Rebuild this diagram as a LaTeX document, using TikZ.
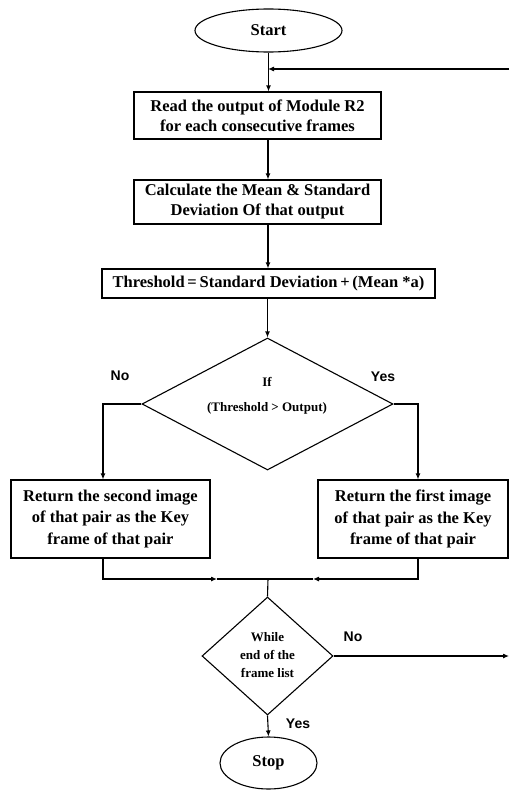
\documentclass[tikz,border=0pt]{standalone}
\usepackage{fontspec}
\setmainfont{Liberation Serif}
\setsansfont{Liberation Sans}
\usetikzlibrary{shapes.geometric,arrows.meta}
\begin{document}
\begin{tikzpicture}[x=1pt,y=-1pt,
  line width=1.1pt,
  arr/.style={-{Latex[length=6pt,width=5pt]}},
  procbox/.style={draw,rectangle,inner sep=0pt,align=center,
    font=\fontsize{16.5}{20}\selectfont\bfseries},
  term/.style={draw,ellipse,inner sep=0pt,font=\fontsize{16.5}{20}\selectfont\bfseries},
  decide/.style={draw,diamond,inner sep=0pt},
  dtext/.style={font=\fontsize{13}{18}\selectfont\bfseries,align=center},
  lab/.style={font=\fontsize{14}{16}\selectfont\sffamily\bfseries}]
\path[use as bounding box] (0,0) rectangle (510,792);
\coordinate (col) at (268,0);
\coordinate (lcol) at (103,0);
\coordinate (rcol) at (418,0);

\node[term,minimum width=147pt,minimum height=43pt] (start) at (268.5,30.5) {Start};
\node[procbox,minimum width=247pt,minimum height=47pt] (b1) at (257.5,115.5)
  {Read the output of Module R2\\for each consecutive frames};
\node[procbox,minimum width=247pt,minimum height=44pt] (b2) at (257.5,202)
  {Calculate the Mean \& Standard\\Deviation Of that output};
\node[procbox,minimum width=333pt,minimum height=29pt] (b3) at (268.5,283.5)
  {Threshold{\,}={\,}Standard Deviation{\,}+{\,}(Mean *a)};
\node[decide,minimum width=251pt,minimum height=132pt] (d1) at (267.5,404) {};
\node[dtext] (d1a) at (267,382) {If};
\node[dtext] (d1b) at (267,408) {(Threshold > Output)};
\node[lab] (no1) at (120,376) {No};
\node[lab] (yes1) at (383,377) {Yes};
\node[procbox,minimum width=199pt,minimum height=78pt,font=\fontsize{16.5}{21.5}\selectfont\bfseries] (lb) at (110.5,519)
  {Return the second image\\of that pair as the Key\\frame of that pair};
\node[procbox,minimum width=190pt,minimum height=78pt,font=\fontsize{16.5}{21.5}\selectfont\bfseries] (rb) at (413,519)
  {Return the first image\\of that pair as the Key\\frame of that pair};
\coordinate (merge) at (268,579);
\coordinate (mL) at (217,579);
\coordinate (mR) at (313,579);
\node[decide,minimum width=131pt,minimum height=118pt] (d2) at (267.5,656) {};
\node[dtext,font=\fontsize{13}{18}\selectfont\bfseries] (d2t) at (267.5,655) {While\\end of the\\frame list};
\node[lab] (no2) at (353,637) {No};
\node[lab] (yes2) at (298,724) {Yes};
\node[term,minimum width=97pt,minimum height=52pt] (stop) at (268.5,763) {Stop};
\coordinate (loopR) at (509,69);
\coordinate (exitR) at (509,656);

\draw[arr] (start.south) -- (start.south |- b1.north);
\draw[arr] (loopR) -- (col |- loopR);
\draw[arr] (b1.south -| col) -- (b2.north -| col);
\draw[arr] (b2.south -| col) -- (b3.north -| col);
\draw[arr] (b3.south -| d1.north) -- (d1.north);
\draw[arr] (d1.west) -| (lcol |- lb.north);
\draw[arr] (d1.east) -| (rcol |- rb.north);
\draw[arr] (lcol |- lb.south) |- (mL);
\draw (mL) -- (merge);
\draw[arr] (rcol |- rb.south) |- (mR);
\draw (mR) -- (merge);
\draw (merge) -- (d2.north);
\draw[arr] (d2.east) -- (exitR);
\draw[arr] (d2.south) -- (stop.north);
\end{tikzpicture}
\end{document}
